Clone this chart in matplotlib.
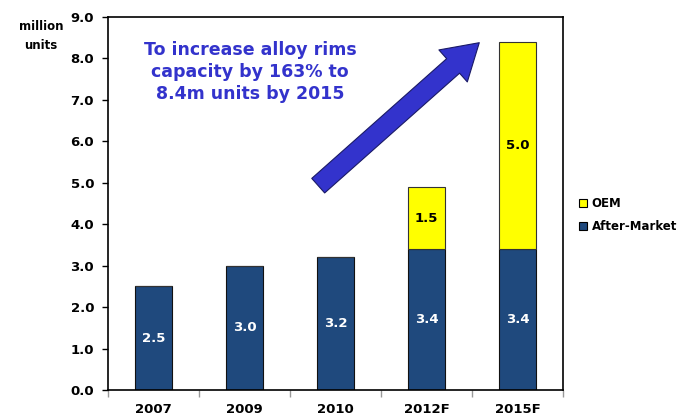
import matplotlib
matplotlib.use("Agg")
import matplotlib.pyplot as plt
from matplotlib.patches import Patch
import numpy as np

years = ["2007", "2009", "2010", "2012F", "2015F"]
after_market = [2.5, 3.0, 3.2, 3.4, 3.4]
oem = [0, 0, 0, 1.5, 5.0]
y_ticks = [0, 1, 2, 3, 4, 5, 6, 7, 8, 9]

navy = "#1F497D"
yellow = "#FFFF00"
blue_txt = "#3333CC"

plt.rcParams["font.family"] = "DejaVu Sans"
plt.rcParams["font.weight"] = "bold"

fig = plt.figure(figsize=(6.85, 4.19), dpi=100)
ax = fig.add_axes([108 / 685, 1 - 390 / 419, 455 / 685, 373 / 419])

x = np.arange(len(years))
ax.bar(x, after_market, width=0.4, color=navy, edgecolor="#111111", linewidth=0.8)
ax.bar(x, oem, width=0.4, bottom=after_market, color=yellow, edgecolor="#333333", linewidth=0.8)

# value labels inside the bars
for i, (a, o) in enumerate(zip(after_market, oem)):
    ax.text(i, a / 2, f"{a:.1f}", ha="center", va="center", color="white",
            fontsize=9.5, fontweight="bold")
    if o > 0:
        ax.text(i, a + o / 2, f"{o:.1f}", ha="center", va="center", color="black",
                fontsize=9.5, fontweight="bold")

ax.set_xlim(-0.5, len(years) - 0.5)
ax.set_ylim(0, 9)
ax.set_yticks(y_ticks)
ax.set_yticklabels([f"{v:.1f}" for v in y_ticks], fontsize=9.5, fontweight="bold")
ax.tick_params(axis="y", length=4, width=1, pad=6)
ax.set_xticks(x)
ax.set_xticklabels(years, fontsize=9.5, fontweight="bold")
ax.tick_params(axis="x", which="major", length=0, pad=9)
ax.set_xticks(np.arange(-0.5, len(years)), minor=True)
ax.tick_params(axis="x", which="minor", length=5, color="#999999", width=1)
for s in ax.spines.values():
    s.set_linewidth(1.2)
    s.set_color("black")

fig.text(41 / 685, 1 - 36 / 419, "million\nunits", ha="center", va="center",
         fontsize=8.5, fontweight="bold", linespacing=1.55)

ax.text(1.06, 7.67, "To increase alloy rims\ncapacity by 163% to\n8.4m units by 2015",
        ha="center", va="center", color=blue_txt, fontsize=12.5, fontweight="bold",
        linespacing=1.3)

ax.annotate("", xy=(3.58, 8.38), xytext=(1.81, 4.93),
            arrowprops=dict(arrowstyle="simple,head_length=1.8,head_width=2.2,tail_width=1.0",
                            fc=blue_txt, ec="#1a1a66", lw=0.8, mutation_scale=14,
                            shrinkA=0, shrinkB=0))

handles = [Patch(facecolor=yellow, edgecolor="black", lw=0.8, label="OEM"),
           Patch(facecolor=navy, edgecolor="black", lw=0.8, label="After-Market")]
fig.legend(handles=handles, loc="center left", bbox_to_anchor=(568 / 685, 1 - 215 / 419),
           frameon=False, handlelength=0.7, handleheight=0.7,
           handletextpad=0.4, labelspacing=0.85, prop={"weight": "bold", "size": 8.5})

fig.savefig("out.png", dpi=100)
